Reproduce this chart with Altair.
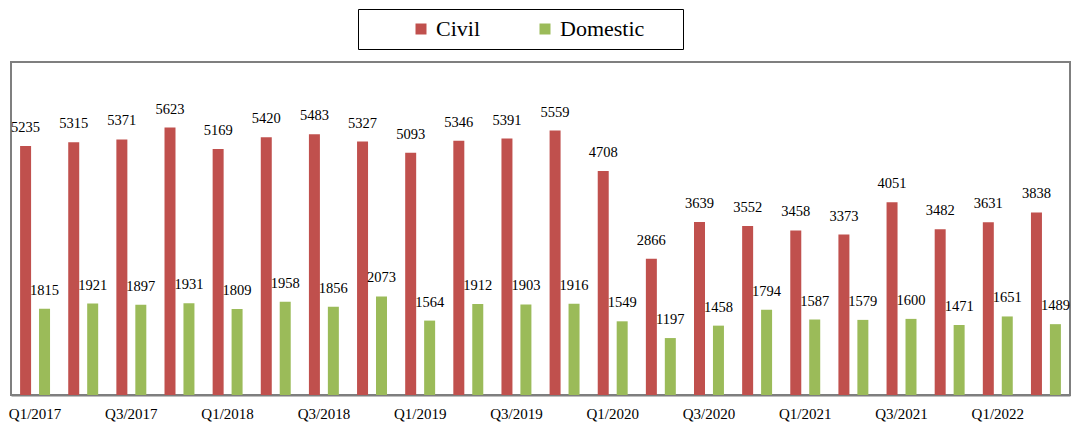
import altair as alt
import pandas as pd

quarters = ["Q1/2017", "Q2/2017", "Q3/2017", "Q4/2017",
            "Q1/2018", "Q2/2018", "Q3/2018", "Q4/2018",
            "Q1/2019", "Q2/2019", "Q3/2019", "Q4/2019",
            "Q1/2020", "Q2/2020", "Q3/2020", "Q4/2020",
            "Q1/2021", "Q2/2021", "Q3/2021", "Q4/2021",
            "Q1/2022", "Q2/2022"]
civil = [5235, 5315, 5371, 5623, 5169, 5420, 5483, 5327, 5093, 5346, 5391,
         5559, 4708, 2866, 3639, 3552, 3458, 3373, 4051, 3482, 3631, 3838]
domestic = [1815, 1921, 1897, 1931, 1809, 1958, 1856, 2073, 1564, 1912, 1903,
            1916, 1549, 1197, 1458, 1794, 1587, 1579, 1600, 1471, 1651, 1489]
series = ["Civil", "Domestic"]
colors = ["#C0504D", "#9BBB59"]

rows = []
for q, c, d in zip(quarters, civil, domestic):
    rows.append({"Quarter": q, "Series": "Civil", "Value": c})
    rows.append({"Quarter": q, "Series": "Domestic", "Value": d})
df = pd.DataFrame(rows)

FONT = "Liberation Serif"

x = alt.X("Quarter:N", sort=quarters,
          scale=alt.Scale(paddingInner=0, paddingOuter=0),
          axis=alt.Axis(values=quarters[::2], title=None, labelAngle=0,
                        ticks=False, labelPadding=11, labelFont=FONT,
                        labelFontSize=15, labelColor="black",
                        domainColor="#7f7f7f", domainWidth=2, grid=False))
xo = alt.XOffset("Series:N", sort=series,
                 scale=alt.Scale(paddingInner=0.42, paddingOuter=0.48))
y = alt.Y("Value:Q", scale=alt.Scale(domain=[0, 7000]), axis=None)
color = alt.Color("Series:N", sort=series,
                  scale=alt.Scale(domain=series, range=colors),
                  legend=alt.Legend(title=" ", titleOrient="right", titlePadding=30,
                                    orient="none", legendX=347, legendY=-53,
                                    direction="horizontal", symbolType="square",
                                    symbolSize=121, symbolStrokeWidth=0,
                                    symbolOpacity=1,
                                    labelFont=FONT, labelFontSize=22,
                                    labelColor="black", labelOffset=4,
                                    symbolOffset=43, columnPadding=10,
                                    padding=9, strokeColor="black",
                                    fillColor="white"))

bars = alt.Chart(df).mark_bar(opacity=1).encode(x=x, xOffset=xo, y=y, color=color)
labels = alt.Chart(df).mark_text(baseline="bottom", dy=-11, font=FONT,
                                 fontSize=14.5, color="black").encode(
    x=x, xOffset=xo, y=y, text=alt.Text("Value:Q", format="d"))

chart = alt.layer(bars, labels).properties(
    width=1059, height=333, autosize="none",
    padding={"left": 3, "top": 54, "right": 1, "bottom": 28},
).configure_view(stroke="#7f7f7f", strokeWidth=2)

chart.save("out.html", embed_options={"renderer": "svg", "actions": False})
